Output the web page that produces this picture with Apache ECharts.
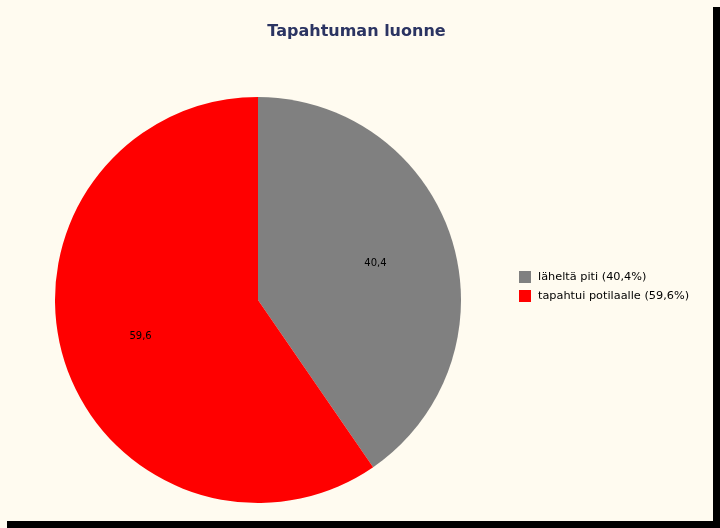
<!DOCTYPE html>
<html>
<head>
<meta charset="utf-8">
<script src="https://cdn.jsdelivr.net/npm/echarts@6/dist/echarts.min.js"></script>
<style>
  html, body { margin: 0; padding: 0; background: #FFFBF0; }
  #chart { position: absolute; left: 0; top: 0; width: 713px; height: 521px; background: #FFFBF0; box-shadow: 7px 7px 0 #000; }
</style>
</head>
<body>
<div id="chart"></div>
<script>
var categories = ['läheltä piti', 'tapahtui potilaalle'];
var values = [40.4, 59.6];
var colors = ['#808080', '#FF0000'];
var title = 'Tapahtuman luonne';

function fmt(v) { return String(v).replace('.', ','); }

var chart = echarts.init(document.getElementById('chart'));
var legendNames = categories.map(function (c, i) { return c + ' (' + fmt(values[i]) + '%)'; });
var pieData = categories.map(function (c, i) {
  return { name: legendNames[i], value: values[i], itemStyle: { color: colors[i] } };
});
var labelData = categories.map(function (c, i) {
  return { name: legendNames[i] + ' ', value: values[i] };
});

chart.setOption({
  animation: false,
  backgroundColor: '#FFFBF0',
  title: {
    text: title, left: 'center', top: 19,
    textStyle: { fontFamily: 'DejaVu Sans, Verdana', fontWeight: 'bold', fontSize: 16, color: '#2B3462' }
  },
  legend: {
    orient: 'vertical', left: 514, top: 266,
    itemWidth: 12, itemHeight: 12, itemGap: 7,
    icon: 'rect',
    data: legendNames,
    textStyle: { fontFamily: 'DejaVu Sans, Verdana', fontSize: 11.3, color: '#000', padding: [0, 0, 0, 2] },
    selectedMode: false
  },
  series: [
    {
      type: 'pie', center: [258, 300], radius: [0, 203],
      startAngle: 90, clockwise: true,
      label: { show: false }, labelLine: { show: false },
      emphasis: { disabled: true },
      data: pieData
    },
    {
      type: 'pie', center: [258, 300], radius: [0, 240],
      startAngle: 90, clockwise: true, silent: true,
      itemStyle: { color: 'transparent' },
      label: {
        show: true, position: 'inside',
        formatter: function (p) { return fmt(p.value); },
        fontFamily: 'DejaVu Sans, Verdana', fontSize: 10, color: '#000'
      },
      labelLine: { show: false },
      emphasis: { disabled: true },
      data: labelData,
      z: 5
    }
  ]
});
</script>
</body>
</html>
